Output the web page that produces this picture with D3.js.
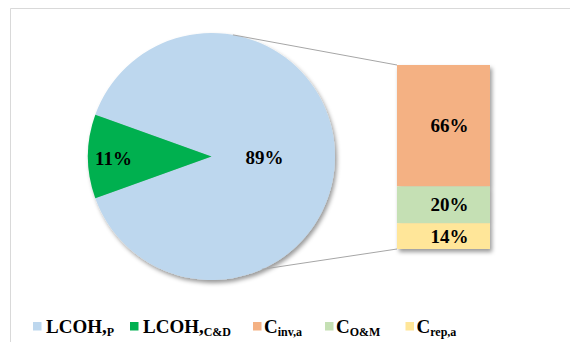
<!DOCTYPE html>
<html>
<head>
<meta charset="utf-8">
<script src="https://cdn.jsdelivr.net/npm/d3@7/dist/d3.min.js"></script>
<style>
  html, body { margin: 0; padding: 0; background: #fff; }
  svg { display: block; }
  text { font-family: "Liberation Serif", "Times New Roman", serif; font-weight: bold; fill: #000; }
</style>
</head>
<body>
<svg id="chart" width="570" height="342"></svg>
<script>
// Levelized cost of hydrogen: share of production vs. construction & decommissioning
const pieCategories = ["LCOH,P", "LCOH,C&D"];
const pieValues = [89, 11];
const pieColors = ["#BDD7EE", "#00B050"];

// Breakdown of the production share
const barCategories = ["Cinv,a", "CO&M", "Crep,a"];
const barValues = [66, 20, 14];
const barColors = ["#F4B183", "#C5E0B4", "#FFE699"];

// Legend entries: main text and subscript
const legendMain = ["LCOH,", "LCOH,", "C", "C", "C"];
const legendSub = ["P", "C&D", "inv,a", "O&M", "rep,a"];
const legendColors = [...pieColors, ...barColors];

const svg = d3.select("#chart");

// drop shadow used by the pie and the stacked bar
const defs = svg.append("defs");
const f = defs.append("filter").attr("id", "shadow")
  .attr("x", "-10%").attr("y", "-10%").attr("width", "130%").attr("height", "130%");
f.append("feDropShadow").attr("dx", 2).attr("dy", 3).attr("stdDeviation", 2)
  .attr("flood-color", "#000").attr("flood-opacity", 0.4);

// chart frame
svg.append("path").attr("d", "M10.5,342 V8.5 H570")
  .attr("fill", "none").attr("stroke", "#d9d9d9").attr("stroke-width", 1);

// ---- pie ----
const cx = 211.5, cy = 156.5, r = 123.5;
// the small slice is centred on the left (270deg clockwise from top)
const smallHalf = Math.PI * 2 * pieValues[1] / 100 / 2;
const startAngle = 1.5 * Math.PI + smallHalf - 2 * Math.PI;
const pie = d3.pie().sort(null).value(d => d)
  .startAngle(startAngle).endAngle(startAngle + 2 * Math.PI);
const arcs = pie(pieValues);
const arc = d3.arc().innerRadius(0).outerRadius(r);

const gPie = svg.append("g").attr("transform", `translate(${cx},${cy})`);
gPie.append("g").attr("filter", "url(#shadow)")
  .selectAll("path").data(arcs).join("path")
  .attr("d", arc).attr("fill", (d, i) => pieColors[i]);

// pie labels
const pieLabelPos = [[53, 7], [-98, 8.5]];
gPie.selectAll("text.lbl").data(arcs).join("text")
  .attr("class", "lbl")
  .attr("x", (d, i) => pieLabelPos[i][0])
  .attr("y", (d, i) => pieLabelPos[i][1])
  .attr("text-anchor", "middle")
  .attr("font-size", 19)
  .text(d => d.value + "%");

// ---- stacked bar ----
const barX = 397, barW = 93, barTop = 65, barBottom = 249;
const total = d3.sum(barValues);
const y = d3.scaleLinear().domain([0, total]).range([barTop, barBottom]);
const stacked = [];
let acc = 0;
barValues.forEach((v, i) => { stacked.push({ v, i, y0: acc, y1: acc + v }); acc += v; });

// connector lines from the pie edge to the bar
const angTop = 10 * Math.PI / 180, angBot = 156 * Math.PI / 180;
const pt = a => [cx + r * Math.sin(a), cy - r * Math.cos(a)];
const connectors = [[pt(angTop), [barX, y(0)]], [pt(angBot), [barX, y(total)]]];
svg.selectAll("line.conn").data(connectors).join("line")
  .attr("class", "conn")
  .attr("x1", d => d[0][0]).attr("y1", d => d[0][1])
  .attr("x2", d => d[1][0]).attr("y2", d => d[1][1])
  .attr("stroke", "#a6a6a6").attr("stroke-width", 1);

const gBar = svg.append("g");
gBar.append("g").attr("filter", "url(#shadow)")
  .selectAll("rect").data(stacked).join("rect")
  .attr("x", barX).attr("width", barW)
  .attr("y", d => y(d.y0)).attr("height", d => y(d.y1) - y(d.y0))
  .attr("fill", d => barColors[d.i]);

gBar.selectAll("text").data(stacked).join("text")
  .attr("x", barX + barW / 2 + 6)
  .attr("y", d => (y(d.y0) + y(d.y1)) / 2 + 6.5)
  .attr("text-anchor", "middle")
  .attr("font-size", 19)
  .text(d => d.v + "%");

// ---- legend ----
const legendX = [33, 130, 253, 325, 405.5];
const gLeg = svg.append("g");
const items = gLeg.selectAll("g").data(legendMain).join("g")
  .attr("transform", (d, i) => `translate(${legendX[i]},322)`);
items.append("rect").attr("width", 8.5).attr("height", 8.5)
  .attr("fill", (d, i) => legendColors[i]);
const t = items.append("text").attr("x", (d, i) => i < 2 ? 13 : 11).attr("y", 11)
  .attr("font-size", 19);
t.append("tspan").text(d => d);
t.append("tspan").attr("font-size", 12).attr("dy", 3)
  .text((d, i) => legendSub[i]);
</script>
</body>
</html>
